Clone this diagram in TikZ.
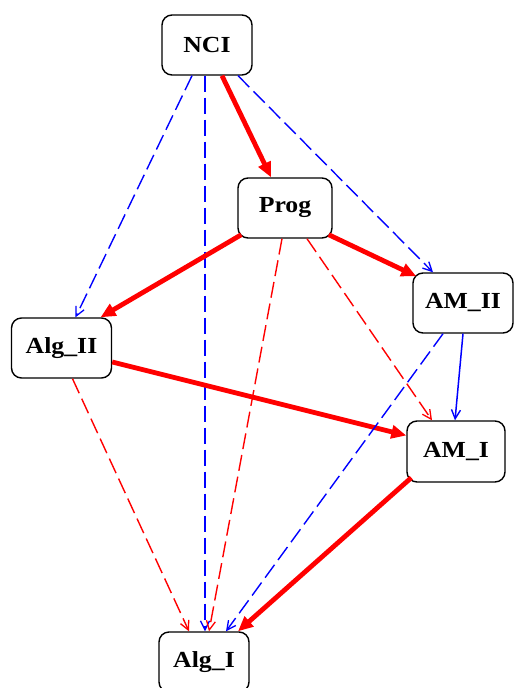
\documentclass[tikz,border=0pt]{standalone}
\usepackage{fontspec}
\setmainfont{Liberation Serif}
\newfontfamily\labelfont[FakeStretch=1.12]{Liberation Serif}
\usetikzlibrary{arrows.meta}
\begin{document}
\begin{tikzpicture}[x=1pt,y=-1pt,
  box/.style={draw=black,line width=1.4pt,rounded corners=10pt,fill=white,
    inner sep=0pt,font=\labelfont\fontsize{23}{23}\selectfont\bfseries},
  major/.style={draw=red,line width=4.8pt,
    -{Triangle[length=15pt,width=13pt]}},
  minorred/.style={draw=red,line width=1.4pt,dash pattern=on 16pt off 6pt,
    -{Straight Barb[length=9pt,width=9pt,line width=1.3pt]}},
  minorblue/.style={draw=blue,line width=1.4pt,dash pattern=on 16pt off 6pt,
    -{Straight Barb[length=9pt,width=9pt,line width=1.3pt]}},
  plainblue/.style={draw=blue,line width=1.5pt,
    -{Straight Barb[length=9pt,width=9pt,line width=1.4pt]}}]
\useasboundingbox (0,0) rectangle (515,688);
\fill[white] (0,0) rectangle (515,688);

% nodes
\node[box,minimum width=90pt,minimum height=60pt] (nci)  at (207,45)  {NCI};
\node[box,minimum width=94pt,minimum height=60pt] (prog) at (285,208) {Prog};
\node[box,minimum width=100pt,minimum height=60pt] (alg2) at (61.5,348) {Alg\_II};
\node[box,minimum width=100pt,minimum height=60pt] (am2)  at (463,303) {AM\_II};
\node[box,minimum width=98pt,minimum height=61pt] (am1)  at (456,451.5) {AM\_I};
\node[box,minimum width=90pt,minimum height=60pt] (alg1) at (204,662) {Alg\_I};

% edges out of NCI
\draw[major] ([xshift=15pt]nci.south) -- ([xshift=-14pt]prog.north);
\draw[minorblue] ([xshift=-15pt]nci.south) -- ([xshift=14pt]alg2.north);
\draw[minorblue] ([xshift=-2pt]nci.south) -- ([xshift=1pt]alg1.north);
\draw[minorblue] ([xshift=31pt]nci.south) -- ([xshift=-30pt]am2.north);

% edges out of Prog
\draw[major] ([xshift=4pt,yshift=4pt]prog.south west) -- ([xshift=39pt]alg2.north);
\draw[major] ([xshift=-4pt,yshift=4pt]prog.south east) -- ([xshift=4pt,yshift=-4pt]am2.north west);
\draw[minorred] ([xshift=-3pt]prog.south) -- ([xshift=5pt]alg1.north);
\draw[minorred] ([xshift=22pt]prog.south) -- ([xshift=-24pt]am1.north);

% edges out of Alg_II
\draw[major] ([yshift=-14pt]alg2.east) -- ([yshift=16pt]am1.west);
\draw[minorred] ([xshift=11pt]alg2.south) -- ([xshift=-15pt]alg1.north);

% edges out of AM_II
\draw[plainblue] (am2.south) -- ([xshift=-1pt]am1.north);
\draw[minorblue] ([xshift=-20pt]am2.south) -- ([xshift=22pt]alg1.north);

% edge out of AM_I
\draw[major] ([xshift=5pt,yshift=5pt]am1.south west) -- ([xshift=34pt]alg1.north);
\end{tikzpicture}
\end{document}
